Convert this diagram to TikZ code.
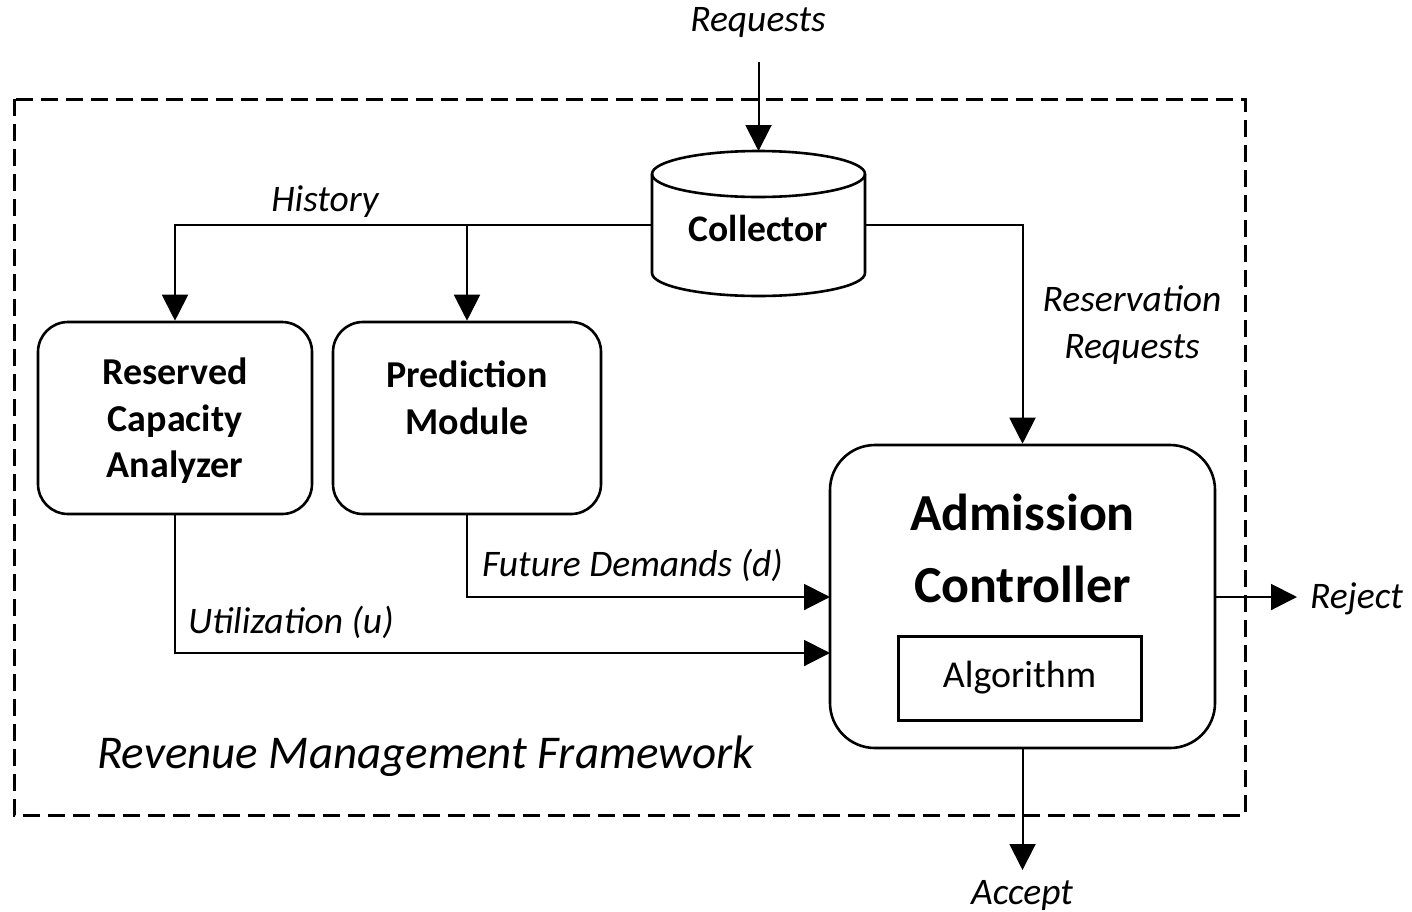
\documentclass[tikz,border=0pt]{standalone}
\usepackage{fontspec}
\setmainfont{Carlito}
\usetikzlibrary{arrows.meta}
\tikzset{
  conn/.style={line width=2pt, -{Triangle[length=26pt,width=26pt]}},
  modbox/.style={draw, line width=2.6pt, rounded corners=30pt, align=center,
    font=\fontsize{38}{46.5}\selectfont\bfseries, inner sep=0pt},
  lbl/.style={font=\fontsize{37.5}{47}\selectfont\itshape, inner sep=0pt},
}
\begin{document}
\begin{tikzpicture}[x=1pt,y=-1pt]
\useasboundingbox (0,0) rectangle (1412,911);

% framework boundary
\draw[line width=3pt, dash pattern=on 17pt off 8pt] (14,99) rectangle (1245,815);
\node[lbl, font=\fontsize{47}{56}\selectfont\itshape, anchor=west] (fw) at (97,756) {Revenue Management Framework};

% collector (cylinder)
\draw[line width=2.6pt, fill=white] (652,174) -- (652,273)
  arc[start angle=180, end angle=360, x radius=106.5pt, y radius=23pt]
  -- (865,174)
  arc[start angle=0, end angle=180, x radius=106.5pt, y radius=23pt] -- cycle;
\draw[line width=2.6pt] (652,174) arc[start angle=180, end angle=360, x radius=106.5pt, y radius=23pt];
\node[minimum width=213pt, minimum height=40pt, inner sep=0pt,
  font=\fontsize{37.5}{46}\selectfont\bfseries] (col) at (758.5,228) {Collector};
\coordinate (coltop) at (758.5,151);
\coordinate (reqsrc) at (758.5,62);
\node[lbl] (req) at (758,22) {Requests};

% modules
\node[modbox, minimum width=274pt, minimum height=192pt, text depth=0pt] (rca) at (175,418)
  {};
\node[modbox, draw=none] (rcat) at (175,421) {Reserved\\Capacity\\Analyzer};
\node[modbox, minimum width=268pt, minimum height=192pt] (pm) at (467,418) {};
\node[modbox, draw=none] (pmt) at (467,398) {Prediction\\Module};
\node[draw, line width=2.6pt, rounded corners=45pt, minimum width=385pt,
  minimum height=303pt, inner sep=0pt] (ac) at (1022.5,596.5) {};
\node[font=\fontsize{52}{72}\selectfont\bfseries, align=center, inner sep=0pt]
  (actitle) at (1022.5,548) {Admission\\Controller};
\node[draw, line width=3pt, minimum width=243pt, minimum height=84pt, inner sep=0pt,
  font=\fontsize{38}{46}\selectfont] (alg) at (1019.5,678) {Algorithm};

% history and reservation flows
\draw[conn] (col.west |- 0,225) -| (rca.north);
\draw[conn] (467,225) -- (pm.north);
\node[lbl] (hist) at (325,202) {History};
\draw[conn] (col.east |- 0,225) -| (ac.north);
\node[lbl, align=center] (resv) at (1132,325)
  {Reservation\\Requests};
\draw[conn] (reqsrc) -- (coltop);

% inputs to the admission controller
\coordinate (fdin) at (830,597);
\coordinate (uin) at (830,653);
\draw[conn] (pm.south) |- (fdin);
\node[lbl, anchor=west] (fd) at (482,565) {Future Demands (d)};
\draw[conn] (rca.south) |- (uin);
\node[lbl, anchor=west] (ut) at (188,622) {Utilization (u)};

% outcomes
\coordinate (rejsrc) at (1215,597);
\coordinate (rejtip) at (1297,597);
\draw[conn] (rejsrc) -- (rejtip);
\node[lbl, anchor=west] (rej) at (1310,599) {Reject};
\coordinate (acctip) at (1022.5,870);
\draw[conn] (ac.south) -- (acctip);
\node[lbl] (acc) at (1022,895) {Accept};
\end{tikzpicture}
\end{document}
